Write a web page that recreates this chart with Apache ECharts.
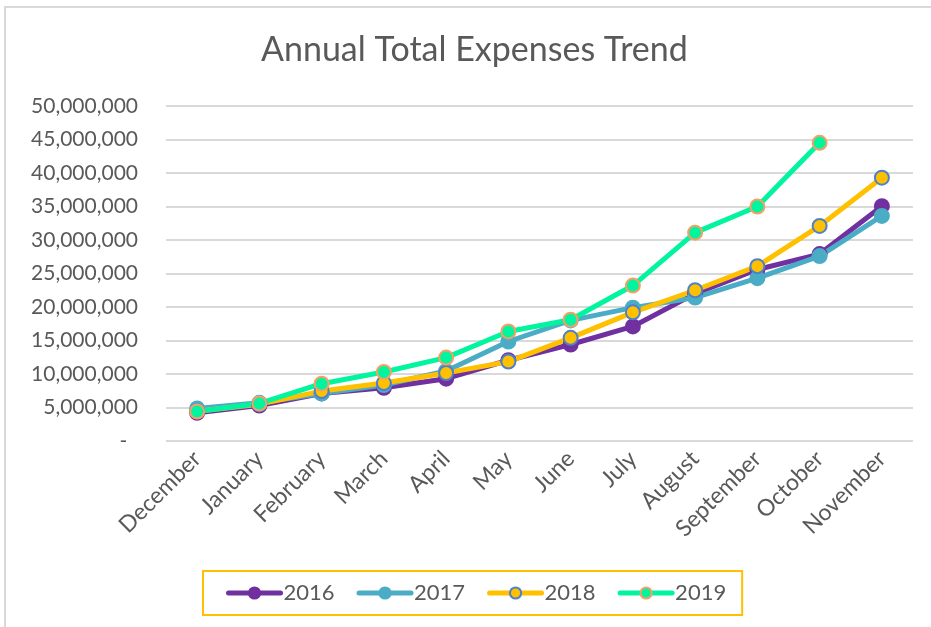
<!DOCTYPE html>
<html>
<head>
<meta charset="utf-8">
<script src="https://cdn.jsdelivr.net/npm/echarts@6/dist/echarts.min.js"></script>
<style>
html,body{margin:0;padding:0;background:#fff;}
#wrap{position:relative;width:931px;height:627px;overflow:hidden;}
#chart{position:absolute;left:0;top:0;width:931px;height:627px;}
#frame{position:absolute;left:4px;top:6px;width:1000px;height:1000px;border-left:2px solid #d9d9d9;border-top:2px solid #d9d9d9;pointer-events:none;}
</style>
</head>
<body>
<div id="wrap"><div id="chart"></div><div id="frame"></div></div>
<script>
const categories = ['December','January','February','March','April','May','June','July','August','September','October','November'];
const s2016 = [4200000, 5300000, 7100000, 7950000, 9300000, 12050000, 14400000, 17100000, 22000000, 25600000, 27900000, 35050000];
const s2017 = [4850000, 5700000, 7100000, 8350000, 10450000, 14850000, 18000000, 19900000, 21400000, 24300000, 27600000, 33600000];
const s2018 = [4450000, 5500000, 7450000, 8650000, 10150000, 11850000, 15400000, 19200000, 22500000, 26100000, 32100000, 39300000];
const s2019 = [4400000, 5600000, 8550000, 10300000, 12450000, 16350000, 18100000, 23200000, 31100000, 35000000, 44500000, null];
const yTicks = {min: 0, max: 50000000, interval: 5000000};

const FONT = 'Lato';
const chart = echarts.init(document.getElementById('chart'), null, {renderer: 'canvas'});

function mk(name, data, color, fill, border) {
  return {
    name: name, type: 'line', data: data,
    symbol: 'circle', symbolSize: 14,
    lineStyle: {color: color, width: 5, cap: 'round', join: 'round'},
    itemStyle: {color: fill, borderColor: border, borderWidth: 2},
    emphasis: {disabled: true},
    z: 2
  };
}

chart.setOption({
  animation: false,
  backgroundColor: 'transparent',
  title: {
    text: 'Annual Total Expenses Trend',
    left: 256, top: 28,
    textStyle: {fontFamily: FONT, fontSize: 34, fontWeight: 'normal', color: '#595959'}
  },
  grid: {left: 166, right: 18, top: 106, bottom: 186, containLabel: false},
  legend: {
    left: 203, top: 571,
    padding: [11, 16, 11, 23],
    borderColor: '#FFC000', borderWidth: 2,
    itemWidth: 52, itemHeight: 14, itemGap: 22,
    lineStyle: {width: 5, cap: 'round'},
    textStyle: {fontFamily: FONT, fontSize: 22, color: '#595959', padding: [0, 0, 0, -2]},
    data: ['2016','2017','2018','2019']
  },
  xAxis: {
    type: 'category', data: categories, boundaryGap: true,
    axisLine: {show: false}, axisTick: {show: false},
    axisLabel: {rotate: 45, margin: 14, fontFamily: FONT, fontSize: 23, color: '#595959', interval: 0}
  },
  yAxis: {
    type: 'value', min: yTicks.min, max: yTicks.max, interval: yTicks.interval,
    axisLine: {show: false}, axisTick: {show: false},
    splitLine: {lineStyle: {color: '#d9d9d9', width: 2}},
    axisLabel: {
      margin: 28, fontFamily: FONT, fontSize: 21, color: '#595959',
      formatter: v => v === 0 ? '-  ' : v.toLocaleString('en-US')
    }
  },
  series: [
    mk('2016', s2016, '#7030A0', '#7030A0', '#7030A0'),
    mk('2017', s2017, '#4BACC6', '#4BACC6', '#4BACC6'),
    mk('2018', s2018, '#FFC000', '#FFC000', '#4F81C9'),
    mk('2019', s2019, '#00F59E', '#00F59E', '#F4A066')
  ]
});
</script>
</body>
</html>
